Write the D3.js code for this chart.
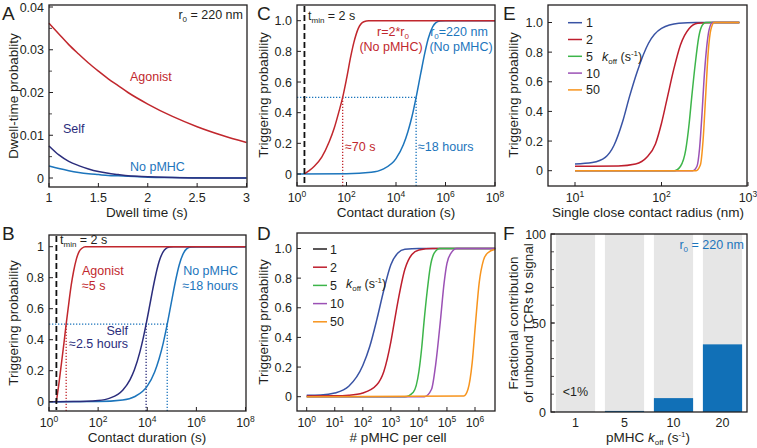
<!DOCTYPE html>
<html><head><meta charset="utf-8">
<script src="https://cdn.jsdelivr.net/npm/d3@7"></script>
<style>body{margin:0;background:#fff} svg{display:block;font-family:"Liberation Sans",Arial,Helvetica,sans-serif}</style>
</head><body><svg id="c" width="757" height="448"></svg>
<script>
// ---------------- DATA ----------------
// Panel A: dwell-time probability
const dwellTime   = [1,1.1,1.2,1.3,1.4,1.5,1.6,1.7,1.8,2,2.25,2.5,2.75,3];
const dwellAgonist= [0.0362,0.0337,0.0312,0.0290,0.0269,0.0250,0.0232,0.0216,0.0200,0.0173,0.0144,0.0120,0.0100,0.0083];
const dwellSelf   = [0.0075,0.0054,0.0039,0.0029,0.0021,0.0015,0.0011,0.0008,0.0005,0.0003,0.0001,0,0,0];
const dwellNone   = [0.0028,0.0022,0.0017,0.0013,0.0010,0.0008,0.0006,0.0005,0.0004,0.0002,0.0001,0.00005,0,0];
const aYTicks = [0,0.01,0.02,0.03,0.04];
const aXTicks = [1,1.5,2,2.5,3];

// Panel B: triggering probability vs contact duration (s)
const bAgonist = [[2,0],[2.5,0.11],[3,0.21],[4,0.37],[5,0.5],[6,0.6],[8,0.75],[10,0.84],[13,0.92],[17,0.97],[22,0.99],[30,1],[1e8,1]];
const bSelf    = [[1,0],[10,0.001],[100,0.008],[300,0.023],[1000,0.074],[2000,0.143],[3000,0.206],[5000,0.32],[7000,0.417],[9000,0.5],[12000,0.603],[16000,0.708],[20000,0.785],[30000,0.901],[50000,0.979],[80000,0.998],[120000,1],[1e8,1]];
const bNone    = [[1,0],[100,0.001],[1000,0.011],[3000,0.032],[10000,0.1],[20000,0.192],[30000,0.274],[45000,0.38],[65000,0.5],[100000,0.656],[150000,0.798],[200000,0.882],[300000,0.959],[400000,0.986],[600000,0.998],[1000000,1],[1e8,1]];
const bHalfTimes = {agonist:5, self:9000, none:65000};
const tMin = 2;

// Panel C
const cLarge = [[2,0],[3,0.02],[5,0.05],[10,0.11],[20,0.21],[32,0.3],[50,0.41],[70,0.5],[100,0.62],[150,0.77],[200,0.86],[300,0.95],[500,0.993],[800,1],[1e8,1]];
const cR0    = bNone;
const cHalfTimes = {large:70, r0:65000};

const logTicks8 = [0,2,4,6,8];
const probTicks = [0,0.2,0.4,0.6,0.8,1];

// Panel D: triggering probability vs # pMHC per cell (x as log10)
const dK1  = [[0,0.01],[0.5,0.012],[1,0.025],[1.5,0.07],[2,0.21],[2.25,0.34],[2.5,0.52],[2.75,0.72],[3,0.89],[3.25,0.97],[3.5,0.995],[4,1],[6.72,1]];
const dK2  = [[0,0.005],[1,0.006],[1.5,0.01],[2,0.025],[2.5,0.08],[2.75,0.17],[3,0.37],[3.12,0.5],[3.25,0.64],[3.5,0.86],[3.75,0.96],[4,0.99],[4.5,1],[6.72,1]];
const dK5  = [[0,0],[3.5,0],[3.8,0.03],[4.0,0.17],[4.1,0.33],[4.18,0.5],[4.3,0.72],[4.4,0.87],[4.55,0.97],[4.75,1],[6.72,1]];
const dK10 = [[0,0],[4.2,0],[4.45,0.05],[4.6,0.22],[4.76,0.5],[4.9,0.77],[5.0,0.9],[5.15,0.97],[5.35,1],[6.72,1]];
const dK50 = [[0,0],[5.6,0.005],[5.75,0.05],[5.9,0.23],[6.02,0.5],[6.15,0.77],[6.3,0.92],[6.45,0.97],[6.72,0.995]];
const dXTicks = [0,1,2,3,4,5,6];
const koffLabels = ["1","2","5","10","50"];

// Panel E: triggering probability vs single close contact radius (nm, x as log10)
const eK1  = [[1,0.045],[1.2,0.055],[1.35,0.09],[1.45,0.17],[1.55,0.33],[1.63,0.5],[1.72,0.67],[1.85,0.86],[2,0.96],[2.2,0.995],[2.4,1],[2.9,1]];
const eK2  = [[1,0.03],[1.5,0.032],[1.7,0.045],[1.83,0.09],[1.93,0.18],[2.0,0.32],[2.07,0.5],[2.14,0.68],[2.22,0.85],[2.32,0.96],[2.42,0.995],[2.6,1],[2.9,1]];
const eK5  = [[1,0],[2.15,0],[2.22,0.03],[2.28,0.14],[2.32,0.32],[2.35,0.5],[2.39,0.72],[2.43,0.9],[2.47,0.98],[2.51,1],[2.9,1]];
const eK10 = [[1,0],[2.36,0],[2.41,0.03],[2.44,0.15],[2.47,0.4],[2.49,0.6],[2.52,0.82],[2.55,0.95],[2.59,1],[2.9,1]];
const eK50 = [[1,0],[2.40,0],[2.45,0.04],[2.48,0.2],[2.51,0.5],[2.54,0.8],[2.57,0.95],[2.61,1],[2.9,1]];
const eXTicks = [1,2,3];

// Panel F: fractional contribution of unbound TCRs (%)
const fKoff = ["1","5","10","20"];
const fContribution = [0.05,0.6,7.8,38];
const fYTicks = [0,50,100];

// ---------------- DRAWING ----------------
const ink = "#231f20";
const RED = "#c1272d", NAVY = "#2b2d7c", LBLUE = "#1c75bc";
const kCols = ["#3953a4","#be1e2d","#3db54a","#9b51b5","#f7941d"];
const svg = d3.select("#c");

function frame(p){
  svg.append("rect").attr("x",p.l).attr("y",p.t).attr("width",p.r-p.l).attr("height",p.b-p.t)
    .attr("fill","none").attr("stroke",ink).attr("stroke-width",1.3);
}
function letter(t,x,y){ svg.append("text").attr("x",x).attr("y",y).attr("font-size",19).attr("fill",ink).text(t); }
function yTicks(p,y,vals,fmt,minor){
  (minor||[]).forEach(v=>svg.append("line").attr("x1",p.l).attr("x2",p.l+3).attr("y1",y(v)).attr("y2",y(v)).attr("stroke",ink).attr("stroke-width",0.8));
  vals.forEach(v=>{
    svg.append("line").attr("x1",p.l).attr("x2",p.l+4).attr("y1",y(v)).attr("y2",y(v)).attr("stroke",ink).attr("stroke-width",1);
    svg.append("text").attr("x",p.l-5).attr("y",y(v)).attr("dy","0.36em").attr("text-anchor","end").attr("font-size",12.5).attr("fill",ink).text(fmt(v));
  });
}
function xTicksLin(p,x,vals,fmt){
  vals.forEach(v=>{
    svg.append("line").attr("x1",x(v)).attr("x2",x(v)).attr("y1",p.b).attr("y2",p.b-4).attr("stroke",ink);
    svg.append("text").attr("x",x(v)).attr("y",p.b+15).attr("text-anchor","middle").attr("font-size",12.5).attr("fill",ink).text(fmt(v));
  });
}
function xTicksLog(p,x,exps){
  exps.forEach(e=>{
    const xv = x(Math.pow(10,e));
    svg.append("line").attr("x1",xv).attr("x2",xv).attr("y1",p.b).attr("y2",p.b-4).attr("stroke",ink);
    const t = svg.append("text").attr("x",xv).attr("y",p.b+16).attr("text-anchor","middle").attr("font-size",12.5).attr("fill",ink);
    t.append("tspan").text("10");
    t.append("tspan").attr("dy",-5).attr("font-size",8.5).text(e);
  });
}
function yTitle(x,yc,str){
  svg.append("text").attr("transform",`translate(${x},${yc}) rotate(-90)`).attr("text-anchor","middle")
    .attr("dy","0.35em").attr("font-size",13.5).attr("fill",ink).text(str);
}
function xTitle(xc,y,str){
  return svg.append("text").attr("x",xc).attr("y",y).attr("text-anchor","middle").attr("font-size",13.5).attr("fill",ink).text(str);
}
function label(x,y,str,col,anchor){
  return svg.append("text").attr("x",x).attr("y",y).attr("text-anchor",anchor||"start").attr("font-size",12.5).attr("fill",col).text(str);
}
function subText(x,y,pre,sub,post,col,anchor,size){
  const t = svg.append("text").attr("x",x).attr("y",y).attr("text-anchor",anchor||"start").attr("font-size",size||12.5).attr("fill",col);
  t.append("tspan").text(pre);
  t.append("tspan").attr("dy",3).attr("font-size",8).text(sub);
  t.append("tspan").attr("dy",-3).text(post);
  return t;
}
function koffText(x,y,anchor){
  const t = svg.append("text").attr("x",x).attr("y",y).attr("text-anchor",anchor||"start").attr("font-size",12.5).attr("fill",ink);
  t.append("tspan").attr("font-style","italic").text("k");
  t.append("tspan").attr("dy",3).attr("font-size",8).text("off");
  t.append("tspan").attr("dy",-3).text(" (s");
  t.append("tspan").attr("dy",-5).attr("font-size",8).text("-1");
  t.append("tspan").attr("dy",5).text(")");
}
function path(data,gen,col,w){
  svg.append("path").datum(data).attr("d",gen).attr("fill","none").attr("stroke",col).attr("stroke-width",w||1.5);
}
function dotted(x1,y1,x2,y2,col){
  svg.append("line").attr("x1",x1).attr("y1",y1).attr("x2",x2).attr("y2",y2).attr("stroke",col)
    .attr("stroke-width",1.3).attr("stroke-dasharray","1.3,1.7");
}
function dashedT(p,xv){
  svg.append("line").attr("x1",xv).attr("x2",xv).attr("y1",p.t+1).attr("y2",p.b-1).attr("stroke","#111")
    .attr("stroke-width",1.8).attr("stroke-dasharray","6,3");
}

// ----- Panel A -----
{
  const p={l:49,r:247,t:5,b:187};
  const x=d3.scaleLinear().domain([1,3]).range([49,246.5]);
  const y=d3.scaleLinear().domain([0,0.04]).range([178,7]);
  const line=d3.line().x(d=>x(d[0])).y(d=>y(d[1])).curve(d3.curveMonotoneX);
  path(dwellTime.map((t,i)=>[t,dwellNone[i]]),line,LBLUE);
  path(dwellTime.map((t,i)=>[t,dwellSelf[i]]),line,NAVY);
  path(dwellTime.map((t,i)=>[t,dwellAgonist[i]]),line,RED);
  frame(p);
  yTicks(p,y,aYTicks,v=>v===0?"0":v.toFixed(2),d3.range(0.005,0.04,0.01));
  xTicksLin(p,x,aXTicks,v=>String(v));
  yTitle(13,96,"Dwell-time probablity");
  xTitle(147,217,"Dwell time (s)");
  subText(243,19,"r","0"," = 220 nm",ink,"end");
  label(130,81,"Agonist",RED);
  label(63,133,"Self",NAVY);
  label(130,171,"No pMHC",LBLUE);
  letter("A",2,20);
}

// ----- Panel B -----
{
  const p={l:49,r:246,t:235,b:411};
  const x=d3.scaleLog().domain([1,1e8]).range([49,245.5]);
  const y=d3.scaleLinear().domain([0,1]).range([401.7,246.7]);
  const line=d3.line().x(d=>x(d[0])).y(d=>y(d[1])).curve(d3.curveMonotoneX);
  dotted(p.l,y(0.5),x(bHalfTimes.none),y(0.5),LBLUE);
  dotted(x(bHalfTimes.agonist),p.b,x(bHalfTimes.agonist),y(0.5),RED);
  dotted(x(bHalfTimes.self),p.b,x(bHalfTimes.self),y(0.5),NAVY);
  dotted(x(bHalfTimes.none),p.b,x(bHalfTimes.none),y(0.5),LBLUE);
  path(bNone,line,LBLUE);
  path(bSelf,line,NAVY);
  path(bAgonist,line,RED);
  dashedT(p,x(tMin));
  frame(p);
  yTicks(p,y,probTicks,v=>v===0||v===1?String(v):v.toFixed(1));
  xTicksLog(p,x,logTicks8);
  yTitle(13,323,"Triggering probability");
  xTitle(147,442,"Contact duration (s)");
  subText(60,244,"t","min"," = 2 s",ink,"start",12.5);
  label(82,275,"Agonist",RED);
  label(82,290,"≈5 s",RED);
  label(238,275,"No pMHC",LBLUE,"end");
  label(238,290,"≈18 hours",LBLUE,"end");
  label(128,335,"Self",NAVY,"end");
  label(128,348,"≈2.5 hours",NAVY,"end");
  letter("B",2,240);
}

// ----- Panel C -----
{
  const p={l:297,r:495,t:5,b:186};
  const x=d3.scaleLog().domain([1,1e8]).range([297,495]);
  const y=d3.scaleLinear().domain([0,1]).range([174,20.7]);
  const line=d3.line().x(d=>x(d[0])).y(d=>y(d[1])).curve(d3.curveMonotoneX);
  dotted(p.l,y(0.5),x(cHalfTimes.r0),y(0.5),LBLUE);
  dotted(x(cHalfTimes.large),p.b,x(cHalfTimes.large),y(0.5),RED);
  dotted(x(cHalfTimes.r0),p.b,x(cHalfTimes.r0),y(0.5),LBLUE);
  path(cR0,line,LBLUE);
  path(cLarge,line,RED);
  dashedT(p,x(tMin));
  frame(p);
  yTicks(p,y,probTicks,v=>v===0?"0":v.toFixed(1));
  xTicksLog(p,x,logTicks8);
  yTitle(263,95,"Triggering probability");
  xTitle(396,217,"Contact duration (s)");
  subText(308,20,"t","min"," = 2 s",ink,"start",12.5);
  subText(393,36,"r=2*r","0","",RED,"middle");
  label(391,51,"(No pMHC)",RED,"middle");
  subText(459,36,"r","0","=220 nm",LBLUE,"middle");
  label(461,51,"(No pMHC)",LBLUE,"middle");
  label(345,151,"≈70 s",RED);
  label(418,151,"≈18 hours",LBLUE);
  letter("C",257,20);
}

// ----- Panel D -----
{
  const p={l:297,r:495,t:233,b:411};
  const x=d3.scaleLog().domain([1,1e6]).range([306.7,475]);
  const y=d3.scaleLinear().domain([0,1]).range([396.7,248.5]);
  const line=d3.line().x(d=>x(Math.pow(10,d[0]))).y(d=>y(d[1])).curve(d3.curveMonotoneX);
  [dK1,dK2,dK5,dK10,dK50].forEach((d,i)=>path(d,line,kCols[i]));
  frame(p);
  yTicks(p,y,probTicks,v=>v===0?"0":v.toFixed(1));
  xTicksLog(p,x,dXTicks);
  yTitle(263,322,"Triggering probability");
  xTitle(398,442,"# pMHC per cell");
  koffLabels.forEach((k,i)=>{
    const yy=249+i*18.2;
    svg.append("line").attr("x1",313).attr("x2",327).attr("y1",yy).attr("y2",yy).attr("stroke",i===0?ink:kCols[i]).attr("stroke-width",1.5);
    label(330,yy+4.5,k,ink);
  });
  koffText(346,288);
  letter("D",257,240);
}

// ----- Panel E -----
{
  const p={l:548,r:747,t:5,b:186};
  const x=d3.scaleLog().domain([10,1000]).range([575,748]);
  const y=d3.scaleLinear().domain([0,1]).range([170.7,22.5]);
  const line=d3.line().x(d=>x(Math.pow(10,d[0]))).y(d=>y(d[1])).curve(d3.curveMonotoneX);
  [eK1,eK2,eK5,eK10,eK50].forEach((d,i)=>path(d,line,kCols[i]));
  frame(p);
  yTicks(p,y,probTicks,v=>v===0?"0":v.toFixed(1));
  xTicksLog(p,x,eXTicks);
  yTitle(513,95,"Triggering probability");
  xTitle(648,217,"Single close contact radius (nm)");
  koffLabels.forEach((k,i)=>{
    const yy=22.7+i*16.8;
    svg.append("line").attr("x1",568).attr("x2",582).attr("y1",yy).attr("y2",yy).attr("stroke",kCols[i]).attr("stroke-width",1.5);
    label(586,yy+4.5,k,ink);
  });
  koffText(602,61);
  letter("E",503,20);
}

// ----- Panel F -----
{
  const p={l:551,r:747,t:234,b:412};
  const x=d3.scaleBand().domain(fKoff).range([551,747]).paddingInner(0.2).paddingOuter(0.1);
  const y=d3.scaleLinear().domain([0,100]).range([412,234]);
  svg.selectAll(".band").data(fKoff).enter().append("rect")
    .attr("x",d=>x(d)).attr("width",x.bandwidth()).attr("y",p.t).attr("height",p.b-p.t).attr("fill","#e6e6e6");
  svg.selectAll(".bar").data(fKoff).enter().append("rect")
    .attr("x",d=>x(d)).attr("width",x.bandwidth())
    .attr("y",(d,i)=>y(fContribution[i])).attr("height",(d,i)=>y(0)-y(fContribution[i])).attr("fill","#1170b7");
  frame(p);
  yTicks(p,y,fYTicks,v=>String(v),d3.range(10,100,10));
  fKoff.forEach(k=>svg.append("text").attr("x",x(k)+x.bandwidth()/2).attr("y",p.b+15).attr("text-anchor","middle").attr("font-size",12.5).attr("fill",ink).text(k));
  svg.append("text").attr("transform","translate(513,323) rotate(-90)").attr("text-anchor","middle").attr("dy","0.35em").attr("font-size",13.5).attr("fill",ink).text("Fractional contribution");
  svg.append("text").attr("transform","translate(528,323) rotate(-90)").attr("text-anchor","middle").attr("dy","0.35em").attr("font-size",13.5).attr("fill",ink).text("of unbound TCRs to signal");
  const t=svg.append("text").attr("x",648).attr("y",442).attr("text-anchor","middle").attr("font-size",13.5).attr("fill",ink);
  t.append("tspan").text("pMHC ");
  t.append("tspan").attr("font-style","italic").text("k");
  t.append("tspan").attr("dy",3).attr("font-size",8).text("off");
  t.append("tspan").attr("dy",-3).text(" (s");
  t.append("tspan").attr("dy",-5).attr("font-size",8).text("-1");
  t.append("tspan").attr("dy",5).text(")");
  subText(744,249,"r","0"," = 220 nm",LBLUE,"end");
  label(x("1")+x.bandwidth()/2,396,"<1%",ink,"middle");
  letter("F",503,240);
}
</script></body></html>
